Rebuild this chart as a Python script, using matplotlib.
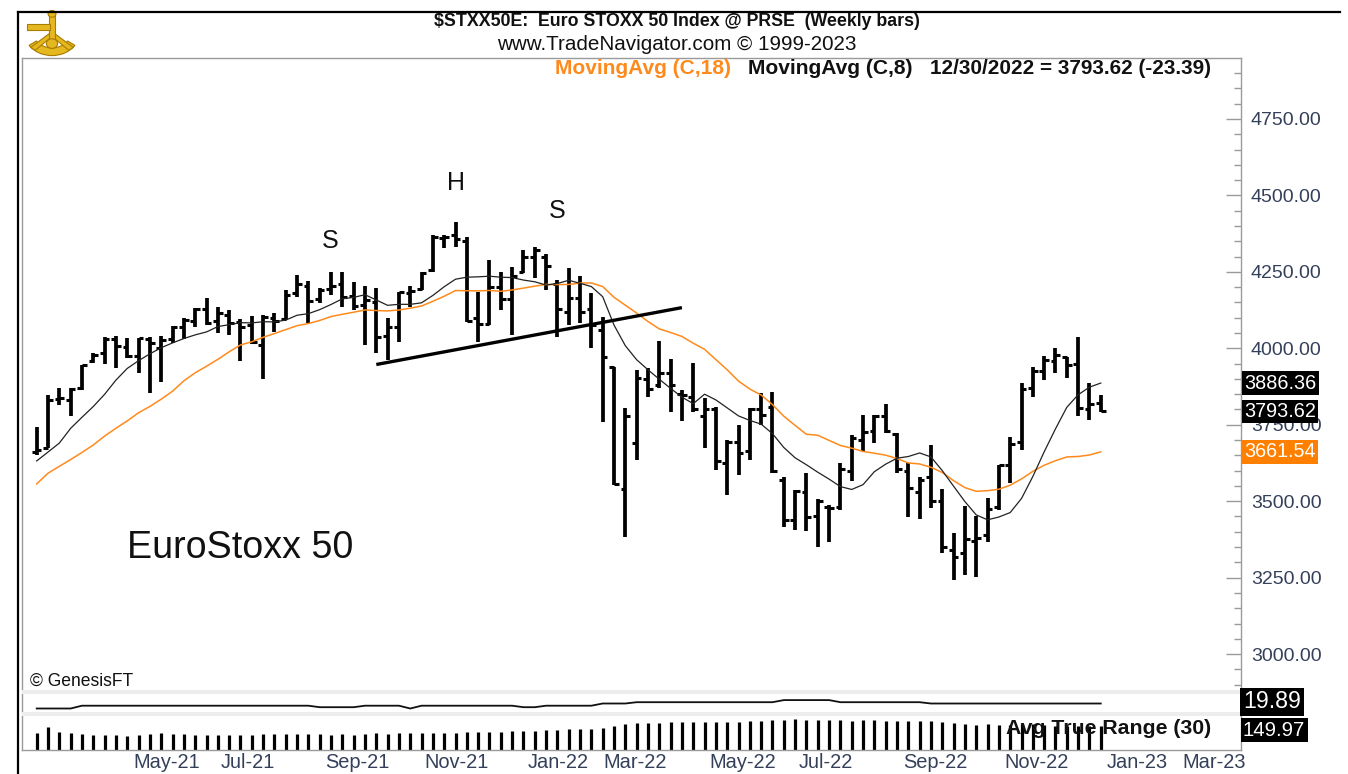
import numpy as np
import matplotlib
matplotlib.use("Agg")
import matplotlib.pyplot as plt
from matplotlib import font_manager
from matplotlib.transforms import blended_transform_factory
from matplotlib.ticker import MultipleLocator, FixedLocator
from matplotlib.patches import Rectangle, Wedge, Circle, Polygon

# ---------------- data (weekly bars) ----------------
opens = [3660, 3675, 3835, 3830, 3870, 3960, 3985, 4030, 4005, 3975,
         4030, 4000, 4030, 4070, 4090, 4130, 4090, 4110, 4085, 4075,
         4010, 4100, 4095, 4180, 4205, 4160, 4195, 4210, 4170, 4140,
         4150, 4040, 4070, 4180, 4195, 4255, 4360, 4370, 4350, 4100,
         4080, 4200, 4160, 4250, 4300, 4300, 4210, 4120, 4165, 4130,
         4060, 3940, 3540, 3690, 3900, 3880, 3920, 3850, 3840, 3780,
         3800, 3624, 3695, 3665, 3800, 3807, 3570, 3440, 3530, 3450,
         3480, 3480, 3600, 3700, 3730, 3780, 3720, 3600, 3530, 3580,
         3500, 3340, 3330, 3370, 3390, 3480, 3620, 3695, 3870, 3925,
         3960, 3970, 3950, 3800, 3820]
highs = [3744, 3847, 3869, 3871, 3946, 3986, 4036, 4040, 4033, 4035,
         4036, 4040, 4073, 4098, 4131, 4164, 4134, 4125, 4095, 4106,
         4109, 4114, 4191, 4240, 4221, 4196, 4250, 4250, 4218, 4204,
         4196, 4098, 4185, 4205, 4249, 4370, 4370, 4414, 4365, 4185,
         4289, 4248, 4267, 4321, 4332, 4307, 4223, 4262, 4237, 4180,
         4103, 3940, 3804, 3928, 3937, 4024, 3965, 3864, 3951, 3836,
         3809, 3700, 3749, 3804, 3853, 3858, 3580, 3537, 3591, 3506,
         3488, 3624, 3716, 3782, 3782, 3818, 3722, 3626, 3578, 3684,
         3539, 3395, 3484, 3452, 3510, 3618, 3709, 3888, 3940, 3975,
         4000, 3973, 4036, 3886, 3847]
lows = [3651, 3673, 3815, 3779, 3864, 3951, 3949, 3935, 3967, 3918,
        3855, 3891, 4016, 4029, 4069, 4076, 4051, 4043, 3959, 4014,
        3900, 4054, 4093, 4169, 4082, 4147, 4174, 4136, 4125, 4011,
        3984, 3962, 4020, 4136, 4191, 4250, 4327, 4332, 4087, 4022,
        4076, 4125, 4043, 4245, 4229, 4191, 4038, 4076, 4082, 4000,
        3760, 3553, 3384, 3635, 3842, 3869, 3793, 3762, 3793, 3673,
        3602, 3520, 3586, 3635, 3749, 3591, 3417, 3406, 3404, 3351,
        3368, 3471, 3567, 3665, 3691, 3722, 3591, 3449, 3441, 3477,
        3330, 3242, 3259, 3253, 3368, 3471, 3561, 3667, 3842, 3896,
        3920, 3902, 3779, 3766, 3792]
closes = [3669, 3832, 3837, 3867, 3945, 3979, 4032, 4007, 3975, 4034,
          4017, 4026, 4071, 4094, 4127, 4084, 4115, 4084, 4070, 4020,
          4101, 4089, 4175, 4211, 4156, 4190, 4204, 4169, 4138, 4159,
          4037, 4071, 4183, 4188, 4245, 4363, 4365, 4356, 4089, 4081,
          4199, 4162, 4235, 4298, 4320, 4270, 4130, 4165, 4120, 4077,
          3970, 3556, 3780, 3903, 3867, 3918, 3880, 3848, 3800, 3803,
          3630, 3695, 3657, 3800, 3783, 3599, 3438, 3533, 3448, 3500,
          3477, 3604, 3708, 3725, 3777, 3730, 3604, 3544, 3570, 3500,
          3349, 3318, 3375, 3381, 3476, 3617.8, 3686, 3868, 3924.24, 3962,
          3977, 3945, 3804, 3817, 3793.62]
# closes of the 17 weeks before the first bar (needed to start the averages)
prior_closes = [3205, 3433, 3468, 3527, 3539, 3508, 3547, 3543, 3553, 3645,
                3600, 3602, 3481, 3656, 3697, 3713, 3636]
# upper small indicator panel (value 19.89 at the end)
indicator = [14.9, 14.9, 14.9, 14.9, 17.7, 17.7, 17.7, 17.7, 17.7, 17.7,
             17.7, 17.7, 17.7, 17.7, 17.7, 17.7, 17.7, 17.7, 17.7, 17.7,
             17.7, 17.7, 17.7, 17.7, 17.7, 16.2, 16.2, 16.2, 16.2, 17.7,
             17.7, 17.7, 17.7, 14.9, 17.7, 17.7, 17.7, 17.7, 17.7, 17.7,
             17.7, 17.7, 17.7, 16.2, 16.2, 17.7, 17.7, 17.7, 17.7, 17.7,
             19.9, 19.9, 19.9, 21.2, 21.2, 21.2, 21.2, 21.2, 21.2, 21.2,
             21.2, 21.2, 21.2, 21.2, 21.2, 21.2, 23.3, 23.3, 23.3, 23.3,
             23.3, 21.2, 21.2, 21.2, 21.2, 21.2, 21.2, 21.2, 21.2, 19.89,
             19.89, 19.89, 19.89, 19.89, 19.89, 19.89, 19.89, 19.89, 19.89, 19.89,
             19.89, 19.89, 19.89, 19.89, 19.89]
month_labels = ["May-21", "Jul-21", "Sep-21", "Nov-21", "Jan-22", "Mar-22",
                "May-22", "Jul-22", "Sep-22", "Nov-22", "Jan-23", "Mar-23"]
month_pos = [11.5, 18.7, 28.3, 37.1, 46.05, 52.9, 62.4, 69.7, 79.4, 88.3, 97.2, 104.0]
price_ticks = [3000, 3250, 3500, 3750, 4000, 4250, 4500, 4750]
neckline_x = [30.0, 57.0]
neckline_y = [3947, 4133]
pattern_labels = ["S", "H", "S"]
pattern_x = [25.9, 37.0, 45.95]
pattern_y = [4351, 4540, 4449]

# ---------------- derived series ----------------
n = len(closes)
idx = np.arange(n)
o = np.array(opens, float); h = np.array(highs, float)
l = np.array(lows, float); c = np.array(closes, float)
full = np.array(prior_closes + closes, float)
k = len(prior_closes)
ma8 = np.array([full[k + i - 7:k + i + 1].mean() for i in range(n)])
ma18 = np.array([full[k + i - 17:k + i + 1].mean() for i in range(n)])
prev_c = np.concatenate([[prior_closes[-1]], c[:-1]])
tr = np.maximum(h, prev_c) - np.minimum(l, prev_c)
atr = np.array([tr[max(0, i - 29):i + 1].mean() for i in range(n)])

# ---------------- fonts ----------------
names = {f.name for f in font_manager.fontManager.ttflist}
SANS = "Liberation Sans" if "Liberation Sans" in names else "DejaVu Sans"
NARROW = "Liberation Sans Narrow" if "Liberation Sans Narrow" in names else SANS
plt.rcParams["font.family"] = [SANS, "DejaVu Sans"]

W, H = 1348, 774
fig = plt.figure(figsize=(W / 100, H / 100), dpi=100)
fig.patch.set_facecolor("white")
renderer = fig.canvas.get_renderer()


def fx(px):
    return px / W


def fy(py):
    return 1 - py / H


def fit(t, target):
    w = t.get_window_extent(renderer).width
    if w > 0:
        t.set_fontsize(t.get_fontsize() * target / w)
    return t


L_PX, R_PX = 22, 1241


def add_ax(top, bottom):
    return fig.add_axes([fx(L_PX), fy(bottom), fx(R_PX) - fx(L_PX), (bottom - top) / H])


AXCOL = "#9a9a9a"
LABCOL = "#34405a"
ORANGE = "#ff8a1c"

# separator bands
for (t0, t1) in [(690, 694), (712, 716)]:
    fig.patches.append(Rectangle((fx(L_PX), fy(t1)), fx(R_PX) - fx(L_PX), (t1 - t0) / H,
                                 transform=fig.transFigure, facecolor="#ededed",
                                 edgecolor="none", zorder=0))

ax = add_ax(58, 690)
axA = add_ax(694, 712)
axB = add_ax(716, 750)

XMIN, XMAX = -1.30, 106.39
for a in (ax, axA, axB):
    a.set_xlim(XMIN, XMAX)
    a.set_facecolor("none")
    for s in a.spines.values():
        s.set_color(AXCOL)
        s.set_linewidth(1.0)

# ---------------- price panel ----------------
ax.set_ylim(2882.6, 4949.3)
ax.vlines(idx, l, h, color="black", lw=2.7, capstyle="butt", zorder=3)
ax.hlines(o, idx - 0.42, idx, color="black", lw=2.2, zorder=3)
ax.hlines(c, idx, idx + 0.42, color="black", lw=2.2, zorder=3)
ax.plot(idx, ma18, color=ORANGE, lw=1.1, zorder=4)
ax.plot(idx, ma8, color="#222222", lw=0.9, zorder=4)
ax.plot(neckline_x, neckline_y, color="black", lw=2.4, solid_capstyle="butt", zorder=5)
for s, xx, yy in zip(pattern_labels, pattern_x, pattern_y):
    ax.text(xx, yy, s, ha="center", va="center", fontsize=18, color="#111111")

ax.yaxis.tick_right()
ax.yaxis.set_major_locator(FixedLocator(price_ticks))
ax.yaxis.set_minor_locator(MultipleLocator(50))
ax.set_yticklabels([f"{v:.2f}" for v in price_ticks])
ax.tick_params(axis="y", which="major", direction="in", length=11, width=1,
               color=AXCOL, labelsize=14, labelcolor=LABCOL, pad=7)
ax.tick_params(axis="y", which="minor", direction="in", length=5, width=1, color=AXCOL)
ax.tick_params(axis="x", which="both", bottom=False, labelbottom=False)
ax.spines["bottom"].set_visible(False)

bt = blended_transform_factory(ax.transAxes, ax.transData)
xa = (1244 - L_PX) / (R_PX - L_PX)
for val, bg in [(ma8[-1], "black"), (c[-1], "black"), (ma18[-1], "#ff8000")]:
    t = ax.text(xa, val, f"{val:.2f}", transform=bt, ha="left", va="center",
                color="white", fontsize=14, clip_on=False, zorder=10,
                bbox=dict(boxstyle="square,pad=0.12", facecolor=bg, edgecolor="none"))
    fit(t, 72)

te = fig.text(fx(127), fy(548), "EuroStoxx 50", ha="left", va="center",
              fontsize=24, color="#111111")
fit(te, 226)
tg = fig.text(fx(30), fy(681), "\u00a9 GenesisFT", ha="left", va="center",
              fontsize=11, color="#111111")
fit(tg, 103)

# ---------------- indicator panel ----------------
axA.set_ylim(11.4, 29.4)
axA.plot(idx, indicator, color="#111111", lw=1.3)
axA.set_yticks([]); axA.set_xticks([])
axA.spines["top"].set_visible(False)
axA.spines["bottom"].set_visible(False)

# ---------------- ATR panel ----------------
axB.set_ylim(0, 215)
axB.vlines(idx, 0, atr, color="black", lw=2.3, capstyle="butt")
axB.set_yticks([])
axB.spines["top"].set_visible(False)
axB.set_xticks(month_pos)
axB.set_xticklabels(month_labels)
axB.tick_params(axis="x", length=0, labelsize=14, labelcolor=LABCOL, pad=2)
ta = axB.text(0.807, 0.62, "Avg True Range (30)", transform=axB.transAxes,
              ha="left", va="center", fontsize=15, fontweight="bold", color="#111111",
              family=[NARROW, "DejaVu Sans"], zorder=10)
fit(ta, 205)

fig.canvas.draw()
labs = axB.get_xticklabels()
w0 = labs[0].get_window_extent(renderer).width
fs = labs[0].get_fontsize() * 67 / w0
for lab in labs:
    lab.set_fontsize(fs)

# right side value boxes for lower panels
for txt, ypix, wpx in [("19.89", 702, 58), ("149.97", 730, 62)]:
    tt = fig.text(fx(1243), fy(ypix), txt, ha="left", va="center", color="white",
                  fontsize=14, family=[NARROW, "DejaVu Sans"],
                  bbox=dict(boxstyle="square,pad=0.12", facecolor="black", edgecolor="none"))
    fit(tt, wpx)

# ---------------- header ----------------
t1 = fig.text(fx(677), fy(22), "$STXX50E:  Euro STOXX 50 Index @ PRSE  (Weekly bars)",
              ha="center", va="center", fontsize=13, fontweight="bold",
              family=[NARROW, "DejaVu Sans"], color="#111111", parse_math=False)
fit(t1, 485)
t2 = fig.text(fx(677), fy(45), "www.TradeNavigator.com \u00a9 1999-2023", ha="center",
              va="center", fontsize=13, family=[NARROW, "DejaVu Sans"], color="#111111")
fit(t2, 359)
t3 = fig.text(fx(555), fy(68), "MovingAvg (C,18)", ha="left", va="center", fontsize=13,
              fontweight="bold", family=[NARROW, "DejaVu Sans"], color=ORANGE)
fit(t3, 175)
t4 = fig.text(fx(748), fy(68), "MovingAvg (C,8)", ha="left", va="center", fontsize=13,
              fontweight="bold", family=[NARROW, "DejaVu Sans"], color="#111111")
fit(t4, 164)
t5 = fig.text(fx(930), fy(68), "12/30/2022 = 3793.62 (-23.39)", ha="left", va="center",
              fontsize=13, fontweight="bold", family=[NARROW, "DejaVu Sans"], color="#111111")
fit(t5, 280)

# frame lines
fig.add_artist(plt.Line2D([fx(18), fx(1340)], [fy(12), fy(12)], color="black", lw=1.6))
fig.add_artist(plt.Line2D([fx(18), fx(18)], [fy(12), fy(774)], color="black", lw=1.6))

# logo (simple golden sextant)
lax = fig.add_axes([fx(24), fy(58), fx(80) - fx(24), (58 - 10) / H])
lax.set_xlim(0, 1); lax.set_ylim(0, 1); lax.axis("off")
gold = "#e6b820"
edge = "#a87c00"
lax.add_patch(Wedge((0.5, 0.55), 0.5, 215, 325, width=0.16, facecolor=gold, edgecolor=edge, lw=0.8))
lax.add_patch(Polygon([[0.5, 0.55], [0.12, 0.22], [0.2, 0.16], [0.5, 0.45], [0.8, 0.16], [0.88, 0.22]],
                      closed=True, facecolor=gold, edgecolor=edge, lw=0.8))
lax.add_patch(Rectangle((0.44, 0.3), 0.12, 0.62, facecolor=gold, edgecolor=edge, lw=0.8))
lax.add_patch(Rectangle((0.05, 0.58), 0.42, 0.12, facecolor=gold, edgecolor=edge, lw=0.8))
lax.add_patch(Circle((0.5, 0.92), 0.07, facecolor=gold, edgecolor=edge, lw=0.8))
lax.add_patch(Circle((0.5, 0.3), 0.1, facecolor=gold, edgecolor=edge, lw=0.8))

fig.savefig("out.png", dpi=100)
